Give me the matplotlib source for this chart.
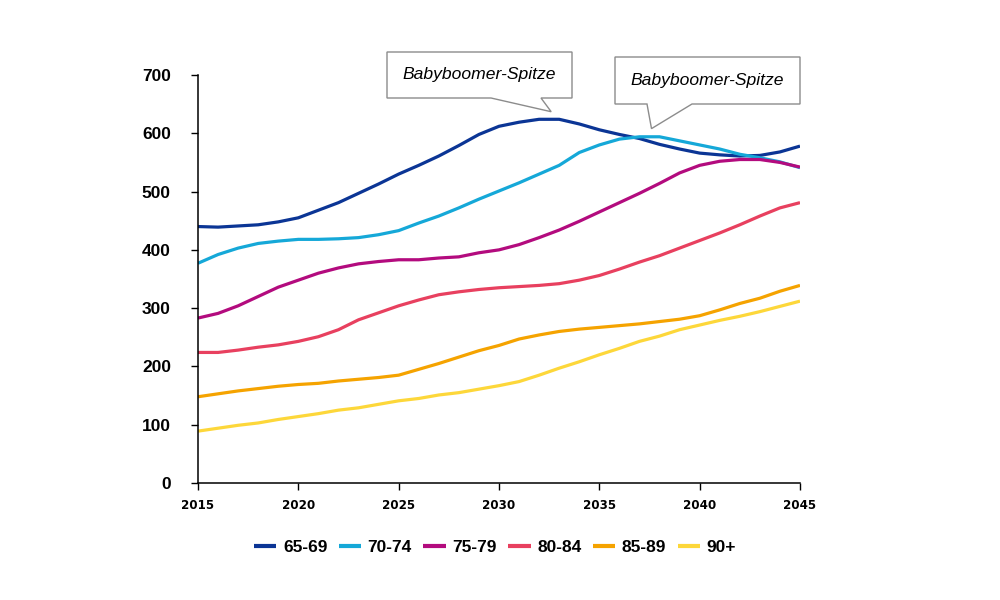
import matplotlib.pyplot as plt
from matplotlib.patches import Polygon

years = list(range(2015, 2046))

age_65_69 = [440, 439, 441, 443, 448, 455, 468, 481, 497, 513, 530, 545, 561, 579, 598, 612,
             619, 624, 624, 616, 606, 598, 591, 581, 573, 566, 563, 561, 562, 568, 578]
age_70_74 = [377, 392, 403, 411, 415, 418, 418, 419, 421, 426, 433, 446, 458, 472, 487, 501,
             515, 530, 545, 567, 580, 590, 594, 594, 587, 580, 573, 564, 558, 551, 541]
age_75_79 = [283, 291, 304, 320, 336, 348, 360, 369, 376, 380, 383, 383, 386, 388, 395, 400,
             409, 421, 434, 449, 465, 481, 497, 514, 532, 545, 552, 555, 555, 550, 542]
age_80_84 = [224, 224, 228, 233, 237, 243, 251, 263, 280, 292, 304, 314, 323, 328, 332, 335,
             337, 339, 342, 348, 356, 367, 379, 390, 403, 416, 429, 443, 458, 472, 481]
age_85_89 = [148, 153, 158, 162, 166, 169, 171, 175, 178, 181, 185, 195, 205, 216, 227, 236,
             247, 254, 260, 264, 267, 270, 273, 277, 281, 287, 297, 308, 317, 329, 339]
age_90 = [89, 94, 99, 103, 109, 114, 119, 125, 129, 135, 141, 145, 151, 155, 161, 167,
          174, 185, 197, 208, 220, 231, 243, 252, 263, 271, 279, 286, 294, 303, 312]

series = [age_65_69, age_70_74, age_75_79, age_80_84, age_85_89, age_90]
labels = ["65-69", "70-74", "75-79", "80-84", "85-89", "90+"]
colors = ["#0b3595", "#15a8d8", "#b30b7e", "#e8405f", "#f5a300", "#fdd73a"]

callout_text = "Babyboomer-Spitze"
# tips of the two callouts (data coords), box corners in figure pixels
callout_tips = [(2032.6, 637), (2037.6, 608)]
callout_boxes = [(387, 52, 572, 98, 491, 541), (615, 57, 800, 104, 647, 692)]

W, H = 1000, 600
fig = plt.figure(figsize=(W / 100, H / 100), dpi=100)
ax = fig.add_axes([0.198, 0.195, 0.602, 0.68])

for vals, lab, col in zip(series, labels, colors):
    ax.plot(years, vals, color=col, lw=2.3, label=lab, solid_capstyle="butt")

ax.set_xlim(2015, 2045)
ax.set_ylim(0, 700)
ax.set_xticks(range(2015, 2046, 5))
ax.set_yticks(range(0, 701, 100))
ax.spines["top"].set_visible(False)
ax.spines["right"].set_visible(False)
for s in ("left", "bottom"):
    ax.spines[s].set_linewidth(1.1)
ax.tick_params(axis="y", direction="out", length=5, width=1, pad=14.5)
ax.tick_params(axis="x", direction="out", length=5, width=1, pad=6.5)
for t in ax.get_yticklabels():
    t.set_fontfamily("Liberation Sans")
    t.set_fontweight("bold")
    t.set_fontsize(12.5)
for t in ax.get_xticklabels():
    t.set_fontfamily("DejaVu Sans")
    t.set_fontweight("bold")
    t.set_fontsize(8.6)

# callouts
fig.canvas.draw()
for (tx, ty), (x0, y0, x1, y1, b0, b1) in zip(callout_tips, callout_boxes):
    px, py = ax.transData.transform((tx, ty))
    py = H - py
    pts = [(x0, y0), (x1, y0), (x1, y1), (b1, y1), (px, py), (b0, y1), (x0, y1)]
    pts = [(x / W, 1 - y / H) for x, y in pts]
    fig.patches.append(Polygon(pts, closed=True, transform=fig.transFigure,
                               facecolor="white", edgecolor="#8c8c8c", lw=1.0, zorder=5))
    fig.text((x0 + x1) / 2 / W, 1 - (y0 + y1) / 2 / H, callout_text,
             ha="center", va="center", fontsize=12.6, style="italic",
             family="Liberation Sans", zorder=6)

leg = fig.legend(loc="center", bbox_to_anchor=(0.495, 0.088), ncol=6, frameon=False,
                 prop={"family": "Liberation Sans", "weight": "bold", "size": 12.5},
                 handlelength=1.3, handletextpad=0.38, columnspacing=0.65)
for h in leg.get_lines():
    h.set_linewidth(3)

fig.savefig("out.png", dpi=100)
